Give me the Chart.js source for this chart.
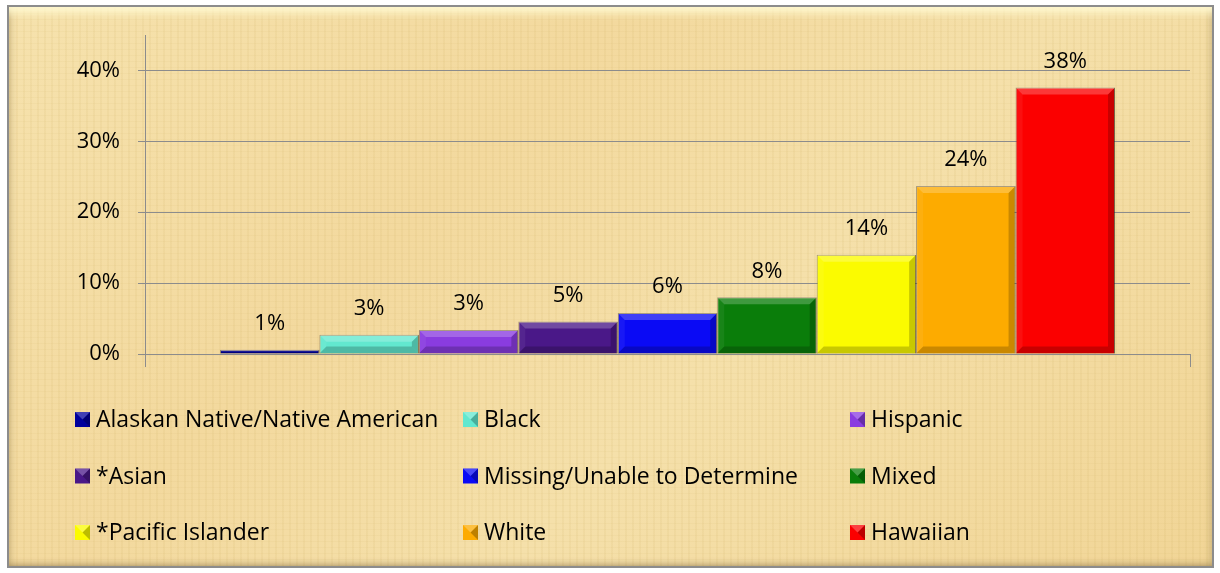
<!DOCTYPE html>
<html>
<head>
<meta charset="utf-8">
<script src="https://cdn.jsdelivr.net/npm/chart.js@4/dist/chart.umd.min.js"></script>
<style>
  html, body { margin: 0; padding: 0; background: #ffffff; width: 1220px; height: 573px; overflow: hidden; }
  #frame {
    position: absolute; left: 7px; top: 5px; width: 1203px; height: 559px;
    border: 2px solid #8c8c8c;
    background:
      repeating-linear-gradient(90deg, rgba(200,170,90,0.10) 0px, rgba(200,170,90,0.10) 2px, rgba(255,255,255,0) 2px, rgba(255,255,255,0) 7px),
      repeating-linear-gradient(0deg, rgba(200,170,90,0.08) 0px, rgba(200,170,90,0.08) 1px, rgba(255,255,255,0) 1px, rgba(255,255,255,0) 6px),
      linear-gradient(135deg, #f6e2ad 0%, #f3d99e 35%, #f5e0aa 60%, #f1d596 100%);
    box-shadow: inset 0 12px 8px -6px rgba(255,250,210,0.95), inset 0 -6px 6px -4px rgba(120,100,60,0.45), inset 6px 0 6px -4px rgba(150,130,80,0.35), inset -6px 0 6px -4px rgba(150,130,80,0.35);
  }
  #wrap { position: absolute; left: 0; top: 0; width: 1220px; height: 573px; }
</style>
</head>
<body>
<div id="frame"></div>
<div id="wrap"><canvas id="c" width="1220" height="573"></canvas></div>
<script>
// ---- data ----
const categories = [''];
const seriesNames = [
  'Alaskan Native/Native American', 'Black', 'Hispanic',
  '*Asian', 'Missing/Unable to Determine', 'Mixed',
  '*Pacific Islander', 'White', 'Hawaiian'
];
const seriesValues = [0.006, 0.027, 0.034, 0.046, 0.058, 0.080, 0.140, 0.237, 0.376];
const seriesColors = ['#00009c', '#62e8cf', '#8a3ce0', '#4a1888', '#0a0af5', '#0a7d0a', '#fbfb00', '#fdab00', '#fb0000'];
const yTickValues = [0, 0.1, 0.2, 0.3, 0.4];

const FONT = '"Open Sans", "DejaVu Sans", sans-serif';
const pct = v => Math.round(v * 100) + '%';

const bevelPlugin = {
  id: 'bevel',
  afterDatasetsDraw(chart) {
    const ctx = chart.ctx;
    chart.data.datasets.forEach((ds, i) => {
      const meta = chart.getDatasetMeta(i);
      meta.data.forEach(el => {
        const p = el.getProps(['x', 'y', 'base', 'width'], true);
        const l = p.x - p.width / 2, r = p.x + p.width / 2, t = Math.min(p.y, p.base), b = Math.max(p.y, p.base);
        const h = b - t;
        const bw = Math.min(7, h / 2);
        if (bw <= 0) return;
        ctx.save();
        const poly = (pts, fill) => {
          ctx.beginPath(); ctx.moveTo(pts[0][0], pts[0][1]);
          for (let k = 1; k < pts.length; k++) ctx.lineTo(pts[k][0], pts[k][1]);
          ctx.closePath(); ctx.fillStyle = fill; ctx.fill();
        };
        poly([[l, t], [r, t], [r - bw, t + bw], [l + bw, t + bw]], 'rgba(255,255,255,0.22)');
        poly([[l, b], [r, b], [r - bw, b - bw], [l + bw, b - bw]], 'rgba(0,0,0,0.2)');
        poly([[r, t], [r, b], [r - bw, b - bw], [r - bw, t + bw]], 'rgba(0,0,0,0.2)');
        poly([[l, t], [l, b], [l + bw, b - bw], [l + bw, t + bw]], 'rgba(255,255,255,0.06)');
        ctx.restore();
      });
    });
  }
};

const labelPlugin = {
  id: 'valueLabels',
  afterDatasetsDraw(chart) {
    const ctx = chart.ctx;
    ctx.save();
    ctx.font = '22px ' + FONT;
    ctx.fillStyle = '#000';
    ctx.textAlign = 'center';
    ctx.textBaseline = 'middle';
    chart.data.datasets.forEach((ds, i) => {
      const meta = chart.getDatasetMeta(i);
      meta.data.forEach((el, j) => {
        ctx.fillText(pct(ds.data[j]), el.x, el.y - 26);
      });
    });
    ctx.restore();
  }
};

const gridLegendPlugin = {
  id: 'gridLegend',
  afterDraw(chart) {
    const ctx = chart.ctx;
    const colX = [75, 463, 850];
    const rowY = [419.5, 476, 532.5];
    ctx.save();
    ctx.font = '23px ' + FONT;
    ctx.textBaseline = 'middle';
    ctx.textAlign = 'left';
    chart.data.datasets.forEach((ds, i) => {
      const x = colX[i % 3], y = rowY[Math.floor(i / 3)];
      ctx.fillStyle = ds.backgroundColor;
      ctx.fillRect(x, y - 7.5, 15, 15);
      ctx.fillStyle = 'rgba(0,0,0,0.25)';
      ctx.beginPath(); ctx.moveTo(x + 15, y - 7.5); ctx.lineTo(x + 15, y + 7.5); ctx.lineTo(x + 7.5, y); ctx.closePath(); ctx.fill();
      ctx.fillStyle = 'rgba(255,255,255,0.25)';
      ctx.beginPath(); ctx.moveTo(x, y - 7.5); ctx.lineTo(x + 15, y - 7.5); ctx.lineTo(x + 7.5, y); ctx.closePath(); ctx.fill();
      ctx.fillStyle = '#000';
      ctx.fillText(ds.label, x + 21, y + 1);
    });
    ctx.restore();
  }
};

new Chart(document.getElementById('c'), {
  type: 'bar',
  data: {
    labels: categories,
    datasets: seriesNames.map((name, i) => ({
      label: name,
      data: [seriesValues[i]],
      backgroundColor: seriesColors[i],
      borderColor: 'rgba(70,55,35,0.55)',
      borderWidth: 1,
      categoryPercentage: 0.8565,
      barPercentage: 1
    }))
  },
  options: {
    responsive: false,
    animation: false,
    devicePixelRatio: 1,
    layout: { padding: { left: 0, right: 30, top: 35, bottom: 0 } },
    plugins: { legend: { display: false }, tooltip: { enabled: false } },
    scales: {
      x: {
        offset: true,
        grid: { drawOnChartArea: false, drawTicks: true, tickLength: 13, color: '#8c8c8c', offset: true },
        border: { display: true, color: '#8c8c8c', width: 1 },
        ticks: { display: false },
        afterFit: s => { s.height = 219; }
      },
      y: {
        min: 0, max: 0.45,
        afterBuildTicks: s => { s.ticks = yTickValues.map(v => ({ value: v })); },
        grid: { color: '#8c8c8c', lineWidth: 1, drawTicks: true, tickLength: 7 },
        border: { display: true, color: '#8c8c8c', width: 1 },
        ticks: { padding: 18, color: '#000', font: { size: 22, family: FONT }, callback: v => pct(v) },
        afterFit: s => { s.width = 145; }
      }
    }
  },
  plugins: [bevelPlugin, labelPlugin, gridLegendPlugin]
});
</script>
</body>
</html>
